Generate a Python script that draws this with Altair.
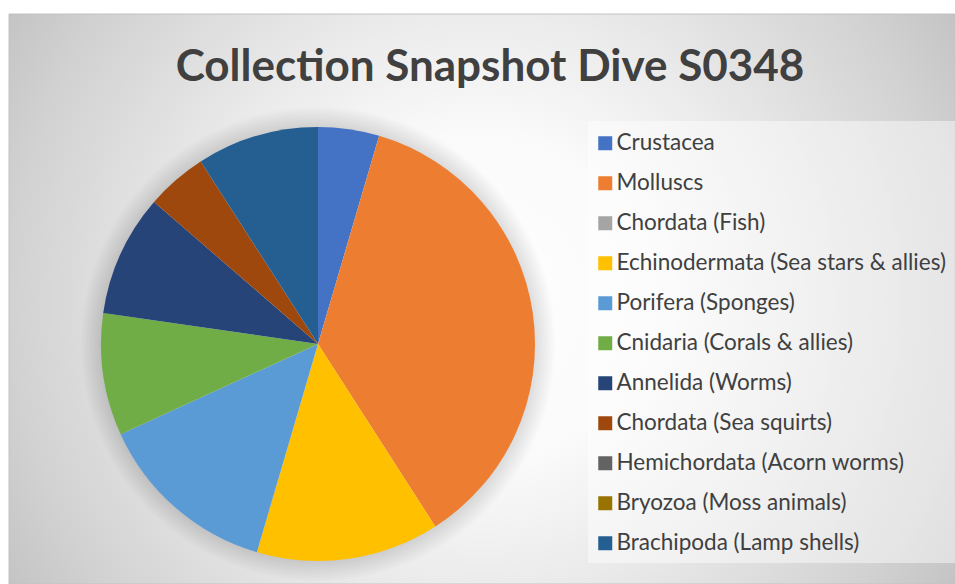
import math

import altair as alt
import pandas as pd

# Specimen counts per taxon for dive S0348
taxa = [
    "Crustacea",
    "Molluscs",
    "Chordata (Fish)",
    "Echinodermata (Sea stars & allies)",
    "Porifera (Sponges)",
    "Cnidaria (Corals & allies)",
    "Annelida (Worms)",
    "Chordata (Sea squirts)",
    "Hemichordata (Acorn worms)",
    "Bryozoa (Moss animals)",
    "Brachipoda (Lamp shells)",
]
counts = [1, 8, 0, 3, 3, 2, 2, 1, 0, 0, 2]
palette = [
    "#4472C4", "#ED7D31", "#A5A5A5", "#FFC000", "#5B9BD5", "#70AD47",
    "#264478", "#9E480E", "#636363", "#997300", "#255E91",
]
title_text = "Collection Snapshot Dive S0348"

df = pd.DataFrame({"taxon": taxa, "count": counts, "rank": list(range(len(taxa)))})

W, H = 955, 584
CX, CY, R = 318, 344, 217
FONT = "Lato"
TEXT_COLOR = "#404040"

single = alt.Data(values=[{}])

# Chart-area fill: soft radial gradient, white centre fading to grey
backdrop = alt.Chart(single).mark_rect(
    fill=alt.RadialGradient(
        gradient="radial",
        x1=0.5, y1=0.5, r1=0,
        x2=0.5, y2=0.5, r2=0.584,
        stops=[
            alt.GradientStop(color="#ffffff", offset=0),
            alt.GradientStop(color="#fafafa", offset=0.3),
            alt.GradientStop(color="#e9e9e9", offset=0.55),
            alt.GradientStop(color="#d2d2d2", offset=0.85),
            alt.GradientStop(color="#c4c4c4", offset=1),
        ],
    ),
    stroke="#c2c2c2",
    strokeWidth=1,
).encode(x=alt.value(9), x2=alt.value(W), y=alt.value(14), y2=alt.value(H))

# Translucent panel behind the legend
legend_panel = alt.Chart(single).mark_rect(fill="#ffffff", opacity=0.45).encode(
    x=alt.value(588), x2=alt.value(W), y=alt.value(121), y2=alt.value(563)
)

# Soft glow around the pie, built from faint concentric rings
halo_layers = [
    alt.Chart(single).mark_arc(
        radius=R + 2 * k, radius2=R - 6, theta=0, theta2=2 * math.pi,
        fill="#000000", opacity=0.012,
    ).encode(x=alt.value(CX), y=alt.value(CY))
    for k in range(1, 11)
]

pie = alt.Chart(df).mark_arc(radius=R).encode(
    theta=alt.Theta("count:Q", stack=True),
    order=alt.Order("rank:Q"),
    color=alt.Color(
        "taxon:N",
        sort=taxa,
        scale=alt.Scale(domain=taxa, range=palette),
        legend=alt.Legend(
            title=None,
            orient="none",
            legendX=594,
            legendY=132,
            symbolType="square",
            symbolSize=196,
            symbolStrokeWidth=0,
            symbolOpacity=1,
            labelFont=FONT,
            labelFontSize=22.5,
            labelColor=TEXT_COLOR,
            labelOffset=0,
            labelLimit=400,
            rowPadding=17,
            padding=0,
        ),
    ),
    x=alt.value(CX),
    y=alt.value(CY),
)

title = alt.Chart(single).mark_text(
    text=title_text,
    font=FONT,
    fontSize=44,
    fontWeight="bold",
    color=TEXT_COLOR,
    align="center",
    baseline="alphabetic",
).encode(x=alt.value(490), y=alt.value(81))

chart = alt.layer(backdrop, legend_panel, *halo_layers, pie, title).properties(
    width=W,
    height=H,
    padding=0,
    autosize="none",
    background="#ffffff",
).configure_view(strokeWidth=0)

chart.save("out.html", embed_options={"renderer": "svg", "actions": False})
